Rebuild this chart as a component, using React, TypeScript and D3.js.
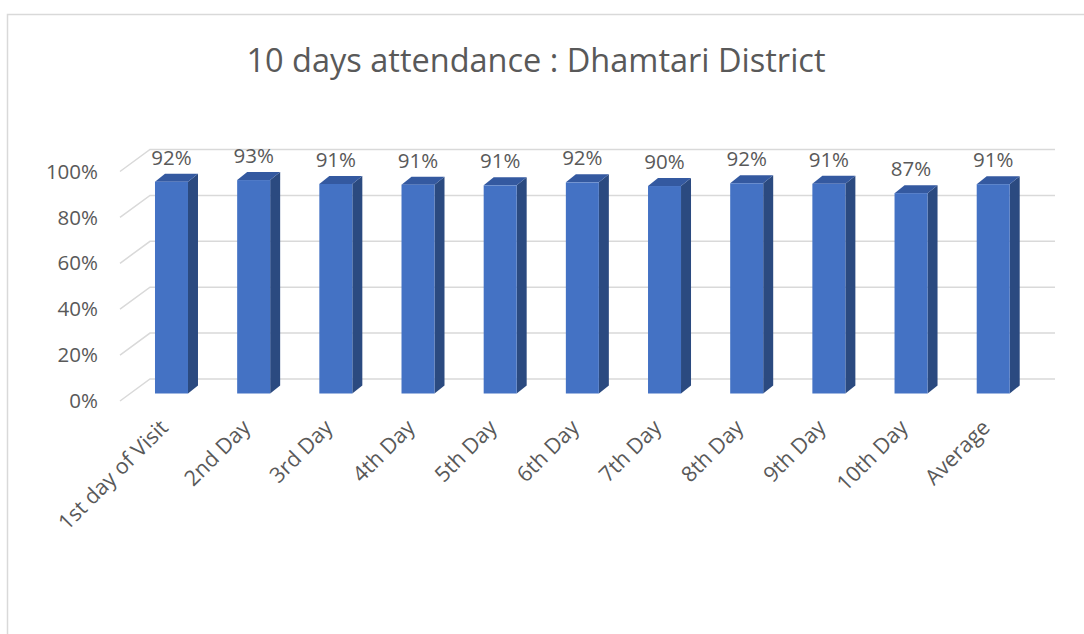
import React from 'react';
import * as d3 from 'd3';

const categories = [
  '1st day of Visit',
  '2nd Day',
  '3rd Day',
  '4th Day',
  '5th Day',
  '6th Day',
  '7th Day',
  '8th Day',
  '9th Day',
  '10th Day',
  'Average',
];
const attendance = [0.923, 0.93, 0.913, 0.91, 0.907, 0.92, 0.904, 0.916, 0.914, 0.873, 0.912];
const yTicks = [0, 0.2, 0.4, 0.6, 0.8, 1];
const title = '10 days attendance : Dhamtari District';

const W = 1084;
const H = 634;
const FONT = '"Open Sans", "Noto Sans", sans-serif';
const TEXT = '#595959';
const GRID = '#d9d9d9';

// 3d offsets
const floorDx = 30;
const floorDy = -22;
const barDx = 10;
const barDy = -8;

export default function App() {
  // back wall scale
  const y = d3.scaleLinear().domain([0, 1]).range([379, 149.5]);
  const barBase = 14.5; // bar front plane sits this far below the back wall
  const x = d3.scaleBand<string>().domain(categories).range([130.4, 1034.3]).paddingInner(0).paddingOuter(0);
  const barW = 33;
  const pct = d3.format('.0%');

  return (
    <svg width={W} height={H} style={{ position: 'absolute', left: 0, top: 0 }}>
      <rect x={0} y={0} width={W} height={H} fill="#fff" />
      <rect x={7.5} y={14.5} width={W + 20} height={H + 20} fill="none" stroke={GRID} strokeWidth={1.5} />
      <text x={536} y={72} textAnchor="middle" fontFamily={FONT} fontSize={32.5} fill={TEXT}>
        {title}
      </text>

      <g>
        {yTicks.map((t) => {
          const yy = y(t);
          return (
            <g key={t}>
              <path
                d={`M${150 - floorDx},${yy - floorDy}L150,${yy}L1055,${yy}`}
                fill="none"
                stroke={GRID}
                strokeWidth={1.5}
              />
              <text
                x={98}
                y={yy - floorDy}
                dy="0.35em"
                textAnchor="end"
                fontFamily={FONT}
                fontSize={20.5}
                fill={TEXT}
              >
                {pct(t)}
              </text>
            </g>
          );
        })}
      </g>

      <g>
        {categories.map((c, i) => {
          const cx = (x(c) as number) + x.bandwidth() / 2;
          const x0 = cx - barW / 2;
          const x1 = cx + barW / 2;
          const base = y(0) + barBase;
          const top = y(attendance[i]) + barBase;
          return (
            <g key={c}>
              <path
                d={`M${x1},${top}L${x1 + barDx},${top + barDy}L${x1 + barDx},${base + barDy}L${x1},${base}Z`}
                fill="#2b4a80"
              />
              <path
                d={`M${x0},${top}L${x0 + barDx},${top + barDy}L${x1 + barDx},${top + barDy}L${x1},${top}Z`}
                fill="#3459a0"
              />
              <rect x={x0} y={top} width={barW} height={base - top} fill="#4472c4" />
              <text
                x={cx}
                y={top - 17}
                textAnchor="middle"
                fontFamily={FONT}
                fontSize={20.5}
                fill={TEXT}
              >
                {pct(attendance[i])}
              </text>
              <text
                transform={`translate(${cx - 2},${429}) rotate(-45)`}
                textAnchor="end"
                fontFamily={FONT}
                fontSize={21.5}
                fill={TEXT}
              >
                {c}
              </text>
            </g>
          );
        })}
      </g>
    </svg>
  );
}
